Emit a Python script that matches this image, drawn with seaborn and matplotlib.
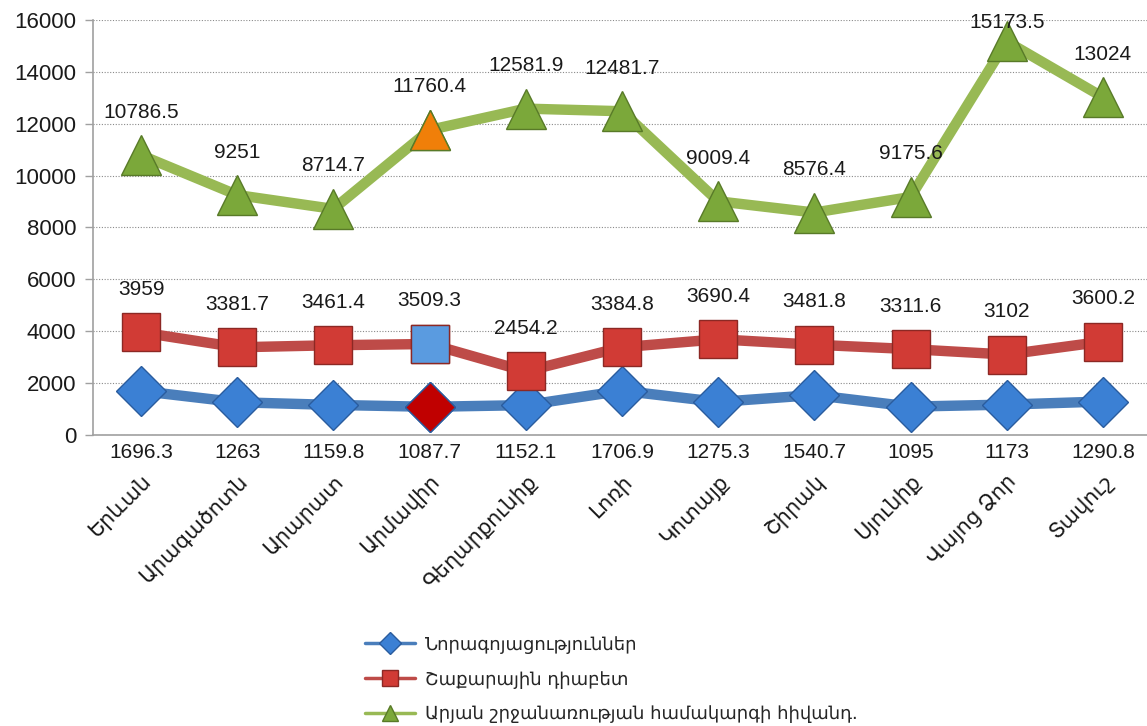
import matplotlib
matplotlib.use("Agg")
import matplotlib.pyplot as plt
import matplotlib.transforms as mtransforms
from matplotlib.lines import Line2D
import numpy as np
import pandas as pd
import seaborn as sns

# data
regions = ['Երևան', 'Արագածոտն', 'Արարատ', 'Արմավիր', 'Գեղարքունիք', 'Լոռի',
           'Կոտայք', 'Շիրակ', 'Սյունիք', 'Վայոց Ձոր', 'Տավուշ']
neoplasms = [1696.3, 1263, 1159.8, 1087.7, 1152.1, 1706.9, 1275.3, 1540.7, 1095, 1173, 1290.8]
diabetes = [3959, 3381.7, 3461.4, 3509.3, 2454.2, 3384.8, 3690.4, 3481.8, 3311.6, 3102, 3600.2]
circulatory = [10786.5, 9251, 8714.7, 11760.4, 12581.9, 12481.7, 9009.4, 8576.4, 9175.6, 15173.5, 13024]
series_names = ['Նորագոյացություններ', 'Շաքարային դիաբետ',
                'Արյան շրջանառության համակարգի հիվանդ.']
highlight = 'Արմավիր'

sns.set_theme(style="white")
plt.rcParams['font.family'] = ['Liberation Sans', 'DejaVu Sans']

fig = plt.figure(figsize=(11.47, 7.26), dpi=100)
ax = fig.add_axes([0.0811, 0.4008, 0.9224, 0.5717])

x = np.arange(len(regions))
df = pd.DataFrame({'x': x, 'neo': neoplasms, 'dia': diabetes, 'circ': circulatory})

ax.set_xlim(-0.5, len(regions) - 0.5)
ax.set_ylim(0, 16000)

# (column, line colour, marker, face, edge, highlight face, marker size)
styles = [
    ('neo', '#4A7EBB', 'D', '#3B80D4', '#2A5C9E', '#C00000', 25),
    ('dia', '#BE4B48', 's', '#D13B35', '#8C2824', '#5A9BE0', 27),
    ('circ', '#98B954', '^', '#7BA83A', '#587A28', '#F07F09', 29),
]

for col, lc, mk, fc, ec, hc, ms in styles:
    sns.lineplot(data=df, x='x', y=col, ax=ax, color=lc, linewidth=7.5,
                 marker=mk, markersize=ms, markerfacecolor=fc,
                 markeredgecolor=ec, markeredgewidth=1.0, legend=False, zorder=3)
    i = regions.index(highlight)
    ax.plot(x[i], df[col][i], marker=mk, markersize=ms, color=hc,
            markeredgecolor=ec, markeredgewidth=1.0, zorder=4, linestyle='none')

# data labels: blue ones sit just under the axis, others above the point
fig_h = fig.get_figheight() * fig.dpi
for xi, v in zip(x, neoplasms):
    ax.annotate(f'{v:g}', (xi, 0), xycoords=('data', 'axes fraction'),
                xytext=(0, -12.5), textcoords='offset points',
                ha='center', va='center', fontsize=15, color='#1a1a1a',
                annotation_clip=False)
for vals in [diabetes, circulatory]:
    for xi, v in zip(x, vals):
        py = ax.transData.transform((xi, v))[1]
        off_px = min(43, fig_h - 22 - py)
        ax.annotate(f'{v:g}', (xi, v), xytext=(0, off_px * 72 / fig.dpi),
                    textcoords='offset points', ha='center', va='center',
                    fontsize=15, color='#1a1a1a', annotation_clip=False)

ax.set_yticks(np.arange(0, 16001, 2000))
ax.set_yticklabels([f'{t:d}' for t in range(0, 16001, 2000)], fontsize=16, color='#1a1a1a')
ax.yaxis.grid(True, linestyle=(0, (1, 1.5)), color='#8a8a8a', linewidth=0.8)
ax.set_axisbelow(True)

ax.set_xticks(x)
ax.set_xticklabels(regions, rotation=45, ha='right', rotation_mode='anchor',
                   fontsize=15, family=['DejaVu Sans'], color='#1a1a1a')
shift = mtransforms.ScaledTranslation(-12 / 72, 0, fig.dpi_scale_trans)
for lab in ax.get_xticklabels():
    lab.set_transform(lab.get_transform() + shift)
ax.set_xticks(np.arange(-0.5, len(regions), 1), minor=True)
ax.tick_params(axis='x', which='major', length=0, pad=26)
ax.tick_params(axis='x', which='minor', length=6, color='#a0a0a0', width=1, direction='out')
ax.tick_params(axis='y', length=6, color='#a0a0a0', width=1, left=True, pad=6)
ax.set_xlabel('')
ax.set_ylabel('')

for s in ['top', 'right']:
    ax.spines[s].set_visible(False)
for s in ['left', 'bottom']:
    ax.spines[s].set_color('#a0a0a0')
    ax.spines[s].set_linewidth(1.2)

handles = [Line2D([0], [0], color=lc, linewidth=2.5, marker=mk, markersize=11,
                  markerfacecolor=fc, markeredgecolor=ec)
           for col, lc, mk, fc, ec, hc, ms in styles]
fig.legend(handles, series_names, loc='upper left', bbox_to_anchor=(0.304, 0.147),
           frameon=False, handlelength=2.8, handletextpad=0.5, labelspacing=0.94,
           prop={'family': ['DejaVu Sans'], 'size': 13})

fig.savefig('out.png', dpi=100)
